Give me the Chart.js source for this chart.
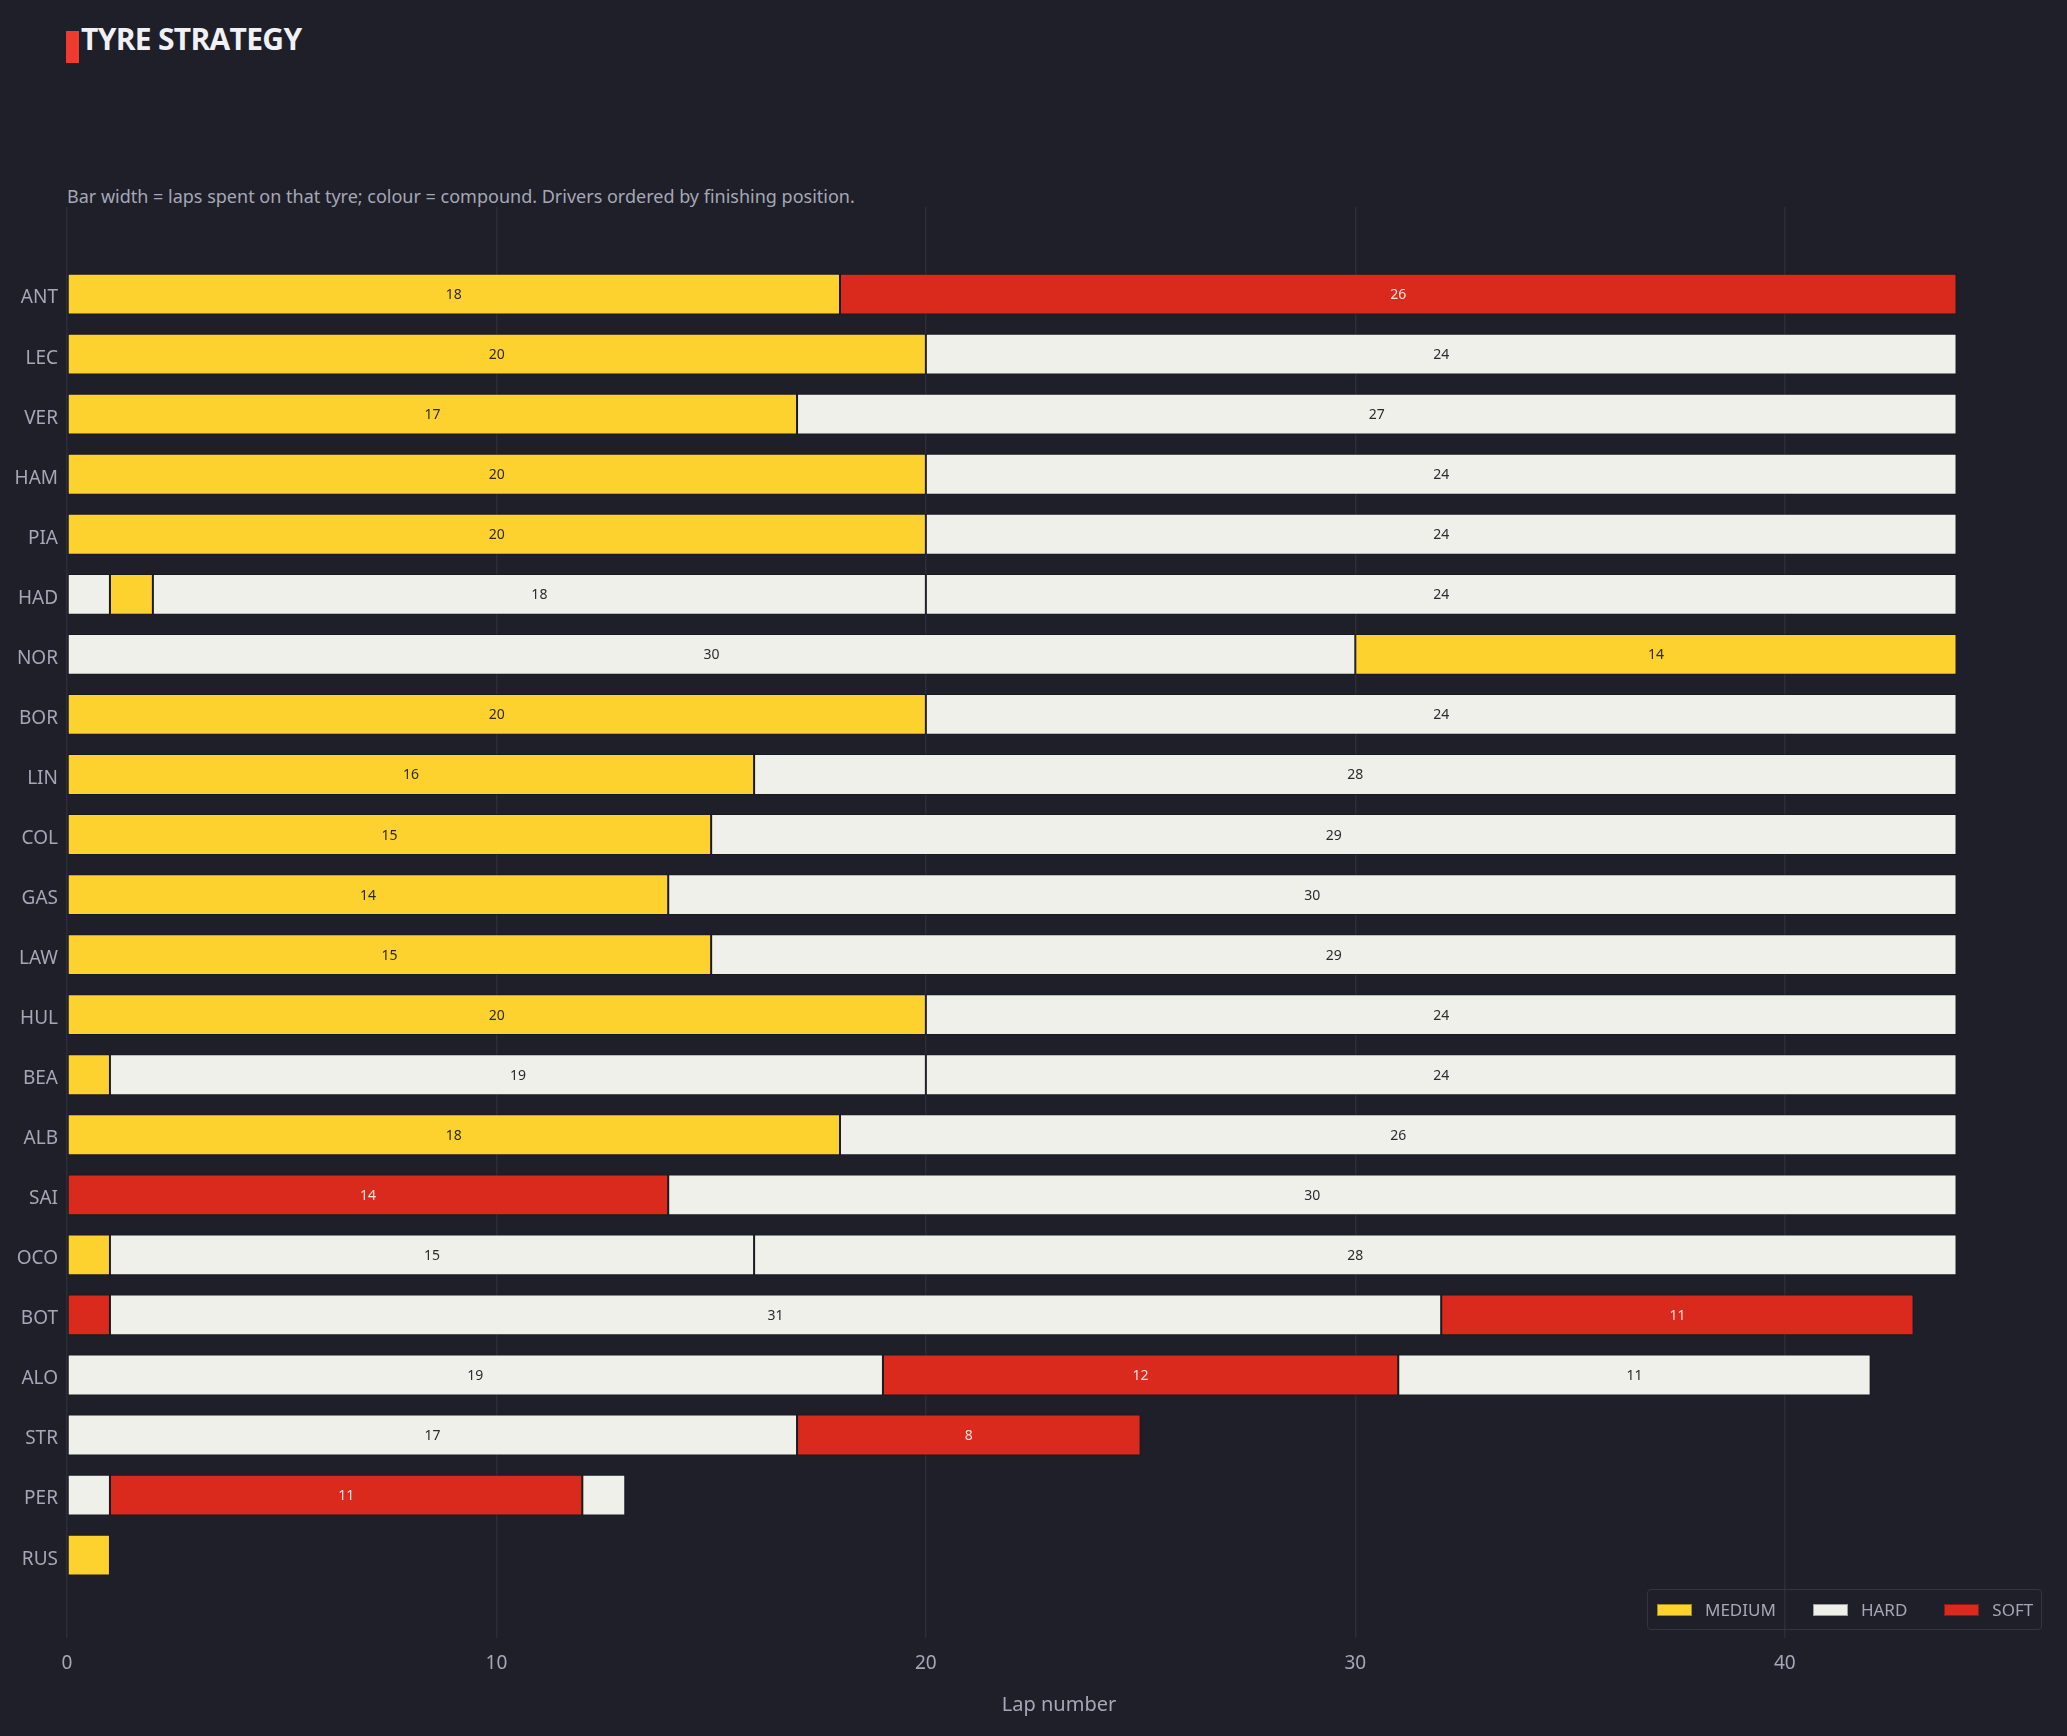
<!DOCTYPE html>
<html>
<head>
<meta charset="utf-8">
<title>Tyre Strategy</title>
<script src="https://cdn.jsdelivr.net/npm/chart.js@4.4.1/dist/chart.umd.min.js"></script>
<style>
  html, body { margin: 0; padding: 0; background: #1e1f29; }
  body { width: 2067px; height: 1736px; position: relative; overflow: hidden; font-family: "Noto Sans", sans-serif; }
  #chartWrap { position: absolute; left: 0; top: 0; width: 2067px; height: 1736px; }
  .title-mark { position: absolute; left: 66px; top: 31px; width: 13px; height: 32px; background: #ee3a2f; }
  .title { position: absolute; left: 81px; top: 24px; font: 700 30px/30px "Open Sans", sans-serif; color: #f1f1f5; letter-spacing: -0.7px; white-space: nowrap; }
  .subtitle { position: absolute; left: 67px; top: 187px; font: 400 18px/18px "Noto Sans", sans-serif; color: #a6a7b6; white-space: nowrap; }
  #legend { position: absolute; left: 1647px; top: 1589px; width: 393px; height: 39px; border: 1.5px solid #34353f; border-radius: 4px; display: flex; align-items: center; box-sizing: content-box; }
  #legend .item { display: flex; align-items: center; margin-left: 9px; margin-right: 28px; }
  #legend .swatch { width: 33px; height: 10px; border: 1px solid rgba(0,0,0,0.35); margin-right: 13px; }
  #legend .label { font: 400 17px/17px "Noto Sans", sans-serif; color: #a6a7b6; }
</style>
</head>
<body>
<div class="title-mark"></div>
<div class="title">TYRE STRATEGY</div>
<div class="subtitle">Bar width = laps spent on that tyre; colour = compound. Drivers ordered by finishing position.</div>
<div id="chartWrap"><canvas id="strategyChart"></canvas></div>
<div id="legend"></div>
<script>
// drivers in finishing order, top to bottom
const drivers = ["ANT", "LEC", "VER", "HAM", "PIA", "HAD", "NOR", "BOR", "LIN", "COL", "GAS",
  "LAW", "HUL", "BEA", "ALB", "SAI", "OCO", "BOT", "ALO", "STR", "PER", "RUS"];

// compound of each stint, per driver
const stintCompounds = [
  ["MEDIUM", "SOFT"],
  ["MEDIUM", "HARD"],
  ["MEDIUM", "HARD"],
  ["MEDIUM", "HARD"],
  ["MEDIUM", "HARD"],
  ["HARD", "MEDIUM", "HARD", "HARD"],
  ["HARD", "MEDIUM"],
  ["MEDIUM", "HARD"],
  ["MEDIUM", "HARD"],
  ["MEDIUM", "HARD"],
  ["MEDIUM", "HARD"],
  ["MEDIUM", "HARD"],
  ["MEDIUM", "HARD"],
  ["MEDIUM", "HARD", "HARD"],
  ["MEDIUM", "HARD"],
  ["SOFT", "HARD"],
  ["MEDIUM", "HARD", "HARD"],
  ["SOFT", "HARD", "SOFT"],
  ["HARD", "SOFT", "HARD"],
  ["HARD", "SOFT"],
  ["HARD", "SOFT", "HARD"],
  ["MEDIUM"]
];

// laps on each stint, per driver
const stintLaps = [
  [18, 26],
  [20, 24],
  [17, 27],
  [20, 24],
  [20, 24],
  [1, 1, 18, 24],
  [30, 14],
  [20, 24],
  [16, 28],
  [15, 29],
  [14, 30],
  [15, 29],
  [20, 24],
  [1, 19, 24],
  [18, 26],
  [14, 30],
  [1, 15, 28],
  [1, 31, 11],
  [19, 12, 11],
  [17, 8],
  [1, 11, 1],
  [1]
];

const compounds = ["MEDIUM", "HARD", "SOFT"];
const compoundColors = { MEDIUM: "#fdd22f", HARD: "#f0f0eb", SOFT: "#da291d" };
const labelColors = { MEDIUM: "#2b2b2b", HARD: "#2b2b2b", SOFT: "#f6e3df" };

const xTicks = [0, 10, 20, 30, 40];

const GRID = "#2c2d38";
const TEXT = "#a6a7b6";

function buildDatasets() {
  const maxStints = Math.max(...stintLaps.map((s) => s.length));
  const datasets = [];

  for (let k = 0; k < maxStints; k++) {
    const data = [];
    drivers.forEach((driver, i) => {
      const laps = stintLaps[i];
      if (k >= laps.length) return;
      const start = laps.slice(0, k).reduce((a, b) => a + b, 0);
      data.push({ y: i, x: [start, start + laps[k]], laps: laps[k], compound: stintCompounds[i][k] });
    });

    datasets.push({
      label: `Stint ${k + 1}`,
      data,
      grouped: false,
      backgroundColor: (c) => compoundColors[c.raw.compound],
      borderColor: "rgba(20, 20, 28, 0.55)",
      borderWidth: 1,
      borderSkipped: false,
      categoryPercentage: 1,
      barPercentage: 0.68
    });
  }
  return datasets;
}

const stintLabels = {
  id: "stintLabels",
  afterDatasetsDraw(chart) {
    const ctx = chart.ctx;
    ctx.save();
    ctx.font = '14px "Noto Sans", sans-serif';
    ctx.textAlign = "center";
    ctx.textBaseline = "middle";
    chart.data.datasets.forEach((ds, di) => {
      chart.getDatasetMeta(di).data.forEach((bar, j) => {
        const raw = ds.data[j];
        if (raw.laps < 2) return;
        ctx.fillStyle = labelColors[raw.compound];
        ctx.fillText(String(raw.laps), (bar.x + bar.base) / 2, bar.y + 1);
      });
    });
    ctx.restore();
  }
};

function renderLegend() {
  const legendEl = document.getElementById("legend");
  compounds.forEach((name) => {
    const item = document.createElement("div");
    item.className = "item";
    item.innerHTML = `<span class="swatch" style="background:${compoundColors[name]}"></span><span class="label">${name}</span>`;
    legendEl.appendChild(item);
  });
}

Chart.defaults.font.family = '"Noto Sans", sans-serif';
Chart.defaults.color = TEXT;

new Chart(document.getElementById("strategyChart"), {
  type: "bar",
  data: { datasets: buildDatasets() },
  plugins: [stintLabels],
  options: {
    indexAxis: "y",
    responsive: true,
    maintainAspectRatio: false,
    animation: false,
    layout: { padding: { top: 207, right: 16, bottom: 0, left: 0 } },
    plugins: {
      legend: { display: false },
      tooltip: {
        callbacks: {
          title: (items) => drivers[items[0].raw.y],
          label: (item) => `${item.raw.compound}: ${item.raw.laps} laps`
        }
      }
    },
    scales: {
      x: {
        type: "linear",
        min: 0,
        max: 46.2,
        afterBuildTicks: (scale) => { scale.ticks = xTicks.map((v) => ({ value: v })); },
        afterFit: (scale) => { scale.height = 98; },
        ticks: { color: TEXT, font: { size: 19 }, padding: 14, includeBounds: false },
        grid: { color: GRID, lineWidth: 1.5, drawTicks: false },
        border: { display: false },
        title: { display: true, text: "Lap number", color: TEXT, font: { size: 20 }, padding: { top: 0, bottom: 19 } }
      },
      y: {
        type: "linear",
        reverse: true,
        offset: false,
        min: -1.45,
        max: 22.38,
        afterBuildTicks: (scale) => { scale.ticks = drivers.map((d, i) => ({ value: i })); },
        afterFit: (scale) => { scale.width = 67; },
        ticks: { color: TEXT, font: { size: 19 }, padding: 9, labelOffset: 4, autoSkip: false, callback: (v) => drivers[v] },
        grid: { display: false, drawTicks: false, offset: false },
        border: { display: false }
      }
    }
  }
});

renderLegend();
</script>
</body>
</html>
